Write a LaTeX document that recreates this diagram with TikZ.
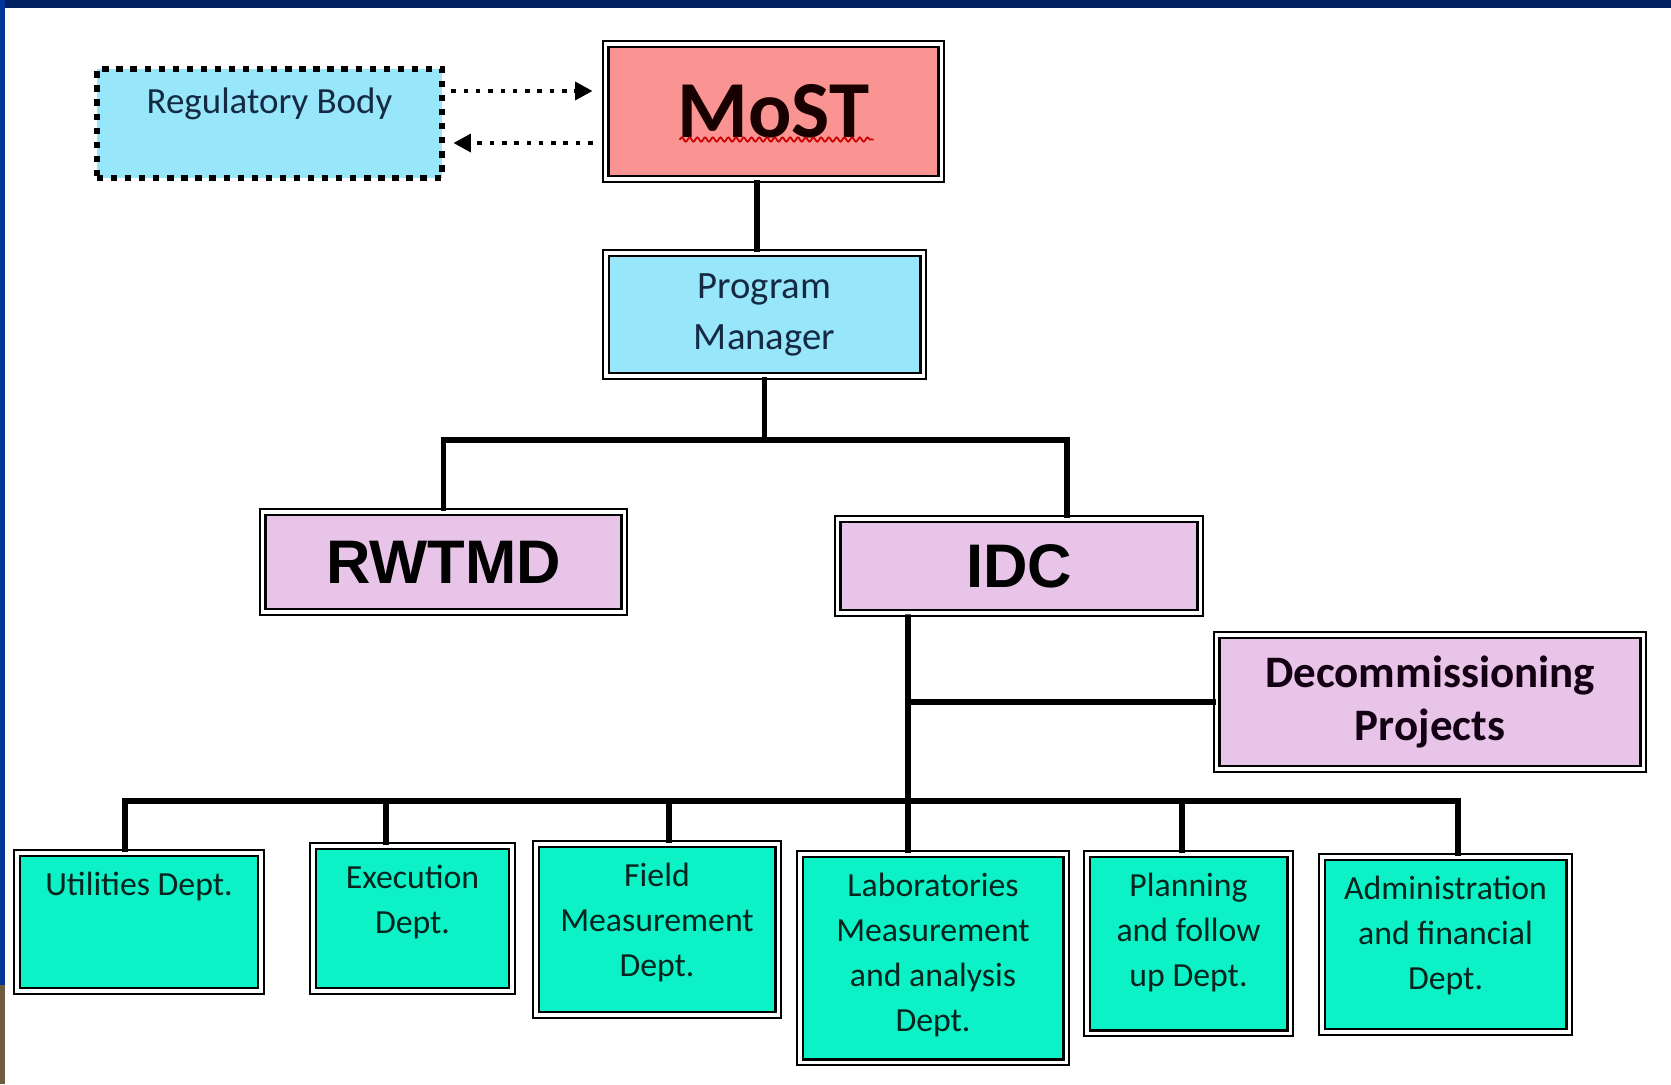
\documentclass[tikz,border=0pt]{standalone}
\usepackage{fontspec}
\setmainfont{Carlito}
\newfontfamily\arialfont{Liberation Sans}
\usepackage{tikz}
\usepackage{xcolor}
\usetikzlibrary{arrows.meta}
\usetikzlibrary{decorations.pathmorphing}
\definecolor{navyframe}{RGB}{0, 32, 96}
\definecolor{sideblue}{RGB}{0, 52, 150}
\definecolor{sidebrown}{RGB}{112, 92, 64}
\definecolor{mostred}{RGB}{250, 148, 146}
\definecolor{lightblue}{RGB}{152, 230, 250}
\definecolor{unitpink}{RGB}{232, 196, 232}
\definecolor{deptgreen}{RGB}{12, 242, 198}
\definecolor{blueink}{RGB}{20, 42, 66}
\definecolor{deptink}{RGB}{5, 36, 30}
\tikzstyle{dblbox} = [
	draw=black,
	double=white,
	double distance=0.9pt,
	line width=0.7pt
]
\tikzstyle{mostbox} = [
	dblbox,
	fill=mostred,
	font=\fontsize{23}{26}\selectfont\bfseries,
	text=black!90!red
]
\tikzstyle{regbox} = [
	draw=black,
	fill=lightblue,
	line width=1.8pt,
	dash pattern=on 1.8pt off 2.2pt
]
\tikzstyle{pmbox} = [
	dblbox,
	fill=lightblue,
	align=center,
	text=blueink,
	font=\fontsize{11}{14.5}\selectfont
]
\tikzstyle{unitbox} = [
	dblbox,
	fill=unitpink,
	font=\arialfont\fontsize{17.5}{20}\selectfont\bfseries
]
\tikzstyle{projbox} = [
	dblbox,
	fill=unitpink,
	align=center,
	text=black!85!violet,
	font=\fontsize{12.8}{14.8}\selectfont\bfseries
]
\tikzstyle{deptbox} = [
	dblbox,
	fill=deptgreen
]
\tikzstyle{depttext} = [
	anchor=north,
	yshift=-0.2cm,
	inner sep=0pt,
	align=center,
	text=deptink,
	font=\fontsize{9.6}{12.8}\selectfont
]
\tikzstyle{conn} = [
	draw=black,
	line width=1.6pt
]
\tikzstyle{dotarrow} = [
	draw=black,
	line width=1.3pt,
	dash pattern=on 1.3pt off 2.2pt,
	-{Triangle[length=5pt,width=5pt]}
]

\begin{document}
\begin{tikzpicture}[x=0.01cm, y=-0.01cm]

	%
	% Page and frame
	\useasboundingbox (0,0) rectangle (1671,1084);
	\fill[white] (0,0) rectangle (1671,1084);
	\fill[navyframe] (0,0) rectangle (1671,8);
	\fill[sideblue] (0,0) rectangle (5,985);
	\fill[sidebrown] (0,985) rectangle (5,1084);

	% Top of the chart
	\node[mostbox, minimum width=3.35cm, minimum height=1.35cm] (most) at (773.5,111.5) {MoST};
	\node[regbox, minimum width=3.45cm, minimum height=1.09cm,
		label={[yshift=0.2cm, text=blueink, font=\fontsize{10.5}{12}\selectfont]center:Regulatory Body}] (reg) at (269.5,123.5) {};
	\node[pmbox, minimum width=3.17cm, minimum height=1.23cm] (pm) at (764.5,314.5) {Program\\Manager};

	% Units
	\node[unitbox, minimum width=3.61cm, minimum height=1.0cm] (rw) at (443.5,562) {RWTMD};
	\node[unitbox, minimum width=3.62cm, minimum height=0.94cm] (idc) at (1019,566) {IDC};
	\node[projbox, minimum width=4.26cm, minimum height=1.34cm] (dec) at (1430,702) {Decommissioning\\Projects};

	% Departments
	\node[deptbox, minimum width=2.44cm, minimum height=1.38cm,
		label={[depttext]north:Utilities Dept.}] (ut) at (139,922) {};
	\node[deptbox, minimum width=1.99cm, minimum height=1.45cm,
		label={[depttext]north:Execution\\Dept.}] (ex) at (412.5,918.5) {};
	\node[deptbox, minimum width=2.42cm, minimum height=1.71cm,
		label={[depttext]north:Field\\Measurement\\Dept.}] (fi) at (657,929.5) {};
	\node[deptbox, minimum width=2.66cm, minimum height=2.08cm,
		label={[depttext]north:Laboratories\\Measurement\\and analysis\\Dept.}] (la) at (933,958) {};
	\node[deptbox, minimum width=2.03cm, minimum height=1.79cm,
		label={[depttext]north:Planning\\and follow\\up Dept.}] (pl) at (1188.5,943.5) {};
	\node[deptbox, minimum width=2.47cm, minimum height=1.75cm,
		label={[depttext]north:Administration\\and financial\\Dept.}] (ad) at (1445.5,944.5) {};

	% Squiggle under MoST
	\draw[red!80!black, line width=0.5pt, decorate, decoration={snake, amplitude=0.6pt, segment length=2.2pt}]
		([xshift=-0.94cm, yshift=-0.28cm]most.center) -- ([xshift=1.0cm, yshift=-0.28cm]most.center);

	% Regulatory body links
	\draw[dotarrow, shorten <=0.06cm, shorten >=0.12cm] ([yshift=0.325cm]reg.east) -- ([yshift=0.325cm]reg.east -| most.west);
	\draw[dotarrow, shorten <=0.12cm, shorten >=0.08cm] ([yshift=-0.195cm]reg.east -| most.west) -- ([yshift=-0.195cm]reg.east);

	% Tree connectors
	\coordinate (split) at (763,440);
	\coordinate (bus) at (908,801);
	\draw[conn] ([xshift=-0.075cm]pm.north) -- ([xshift=-0.075cm]pm.north |- most.south);
	\draw[conn] (pm.south) -- (pm.south |- split);
	\draw[conn] (rw.north) |- (split) -| ([xshift=0.48cm]idc.north);
	\draw[conn] ([xshift=-1.11cm]idc.south) -- (bus);
	\draw[conn] ([xshift=-1.11cm]idc.south |- dec.west) -- (dec.west);
	\draw[conn] ([xshift=-0.14cm]ut.north) |- (bus) -| ([xshift=0.125cm]ad.north);
	\foreach \d/\dx in {ex/-0.265, fi/0.12, la/-0.25, pl/-0.065}
		\draw[conn] ([xshift=\dx cm]\d.north) -- ([xshift=\dx cm]\d.north |- bus);

\end{tikzpicture}
\end{document}
